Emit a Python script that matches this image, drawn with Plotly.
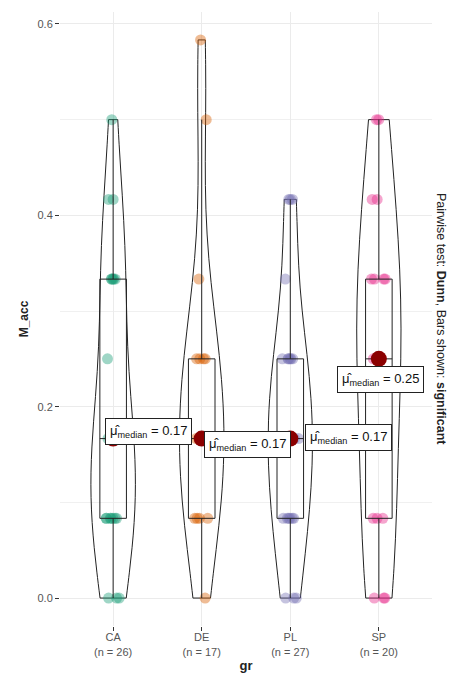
import numpy as np
import plotly.graph_objects as go

# M_acc takes values in steps of 1/12; counts of each score per group
groups = ["CA", "DE", "PL", "SP"]
score_levels = [0, 1 / 12, 2 / 12, 3 / 12, 4 / 12, 5 / 12, 6 / 12, 7 / 12]
counts_CA = [3, 7, 7, 1, 5, 2, 1, 0]
counts_DE = [1, 4, 5, 4, 1, 0, 1, 1]
counts_PL = [3, 6, 8, 6, 1, 3, 0, 0]
counts_SP = [3, 3, 2, 4, 4, 2, 2, 0]
group_colors = ["#1B9E77", "#D95F02", "#7570B3", "#E7298A"]
pairwise_caption = "Pairwise test: <b>Dunn</b>, Bars shown: <b>significant</b>"

# label offsets (px) of the median labels from their points
label_shift = {"CA": (35, 7), "DE": (46, -6), "PL": (58, 1), "SP": (2, -21)}
# kernel bandwidth multiplier applied to the nrd0 rule
bw_adjust = 1.25

counts = {"CA": counts_CA, "DE": counts_DE, "PL": counts_PL, "SP": counts_SP}
data = {g: np.repeat(score_levels, counts[g]) for g in groups}


def q7(v, p):
    return float(np.quantile(v, p))  # R type-7 quantile


def nrd0(v):
    sd = np.std(v, ddof=1)
    iqr = q7(v, 0.75) - q7(v, 0.25)
    s = min(sd, iqr / 1.34) if iqr > 0 else sd
    return 0.9 * s * len(v) ** -0.2


fig = go.Figure()

# jittered raw observations
for g, col in zip(groups, group_colors):
    v = data[g]
    fig.add_trace(go.Box(
        x=[g] * len(v), y=v, boxpoints="all", jitter=0.7, pointpos=0,
        width=0.3, line=dict(width=0, color="rgba(0,0,0,0)"),
        fillcolor="rgba(0,0,0,0)", whiskerwidth=0,
        marker=dict(color=col, opacity=0.42, size=11, line=dict(width=0)),
        hoverinfo="skip",
    ))

# violins (area-scaled through a shared scale group)
for g in groups:
    v = data[g]
    fig.add_trace(go.Violin(
        x=[g] * len(v), y=v, points=False, spanmode="hard",
        bandwidth=nrd0(v) * bw_adjust, scalegroup="all", scalemode="width", width=0.5,
        line=dict(color="#222222", width=1), fillcolor="rgba(255,255,255,0)",
        box=dict(visible=False), meanline=dict(visible=False), hoverinfo="skip",
    ))

# boxplots with Tukey whiskers
medians = []
for g in groups:
    v = data[g]
    q1, med, q3 = q7(v, 0.25), q7(v, 0.5), q7(v, 0.75)
    iqr = q3 - q1
    lo = float(v[v >= q1 - 1.5 * iqr].min())
    hi = float(v[v <= q3 + 1.5 * iqr].max())
    medians.append(med)
    fig.add_trace(go.Box(
        x=[g], q1=[q1], median=[med], q3=[q3], lowerfence=[lo], upperfence=[hi],
        width=0.3, whiskerwidth=0, boxpoints=False,
        line=dict(color="#222222", width=1), fillcolor="rgba(255,255,255,0)",
        hoverinfo="skip",
    ))

# medians
fig.add_trace(go.Scatter(
    x=groups, y=medians, mode="markers",
    marker=dict(color="#8B0000", size=16), hoverinfo="skip",
))

for i, (g, med) in enumerate(zip(groups, medians)):
    dx, dy = label_shift[g]
    fig.add_annotation(
        x=g, y=med, xref="x", yref="y", xshift=dx, yshift=dy,
        text=f"\u03bc\u0302<sub>median</sub> = {med:.2f}",
        showarrow=False, bgcolor="white", bordercolor="#222222",
        borderwidth=1, borderpad=4,
        font=dict(family="Liberation Sans, Arial", size=13, color="#111111"),
    )

fig.add_annotation(
    xref="paper", yref="paper", x=1, y=0.5, xanchor="center", yanchor="middle",
    xshift=9, textangle=90, text=pairwise_caption, showarrow=False,
    font=dict(family="Liberation Sans, Arial", size=12.5, color="#222222"),
)

ticktext = [f"{g}<br>(n = {len(data[g])})" for g in groups]

fig.update_layout(
    width=453, height=678,
    margin=dict(l=60, r=21, t=12, b=52),
    plot_bgcolor="white", paper_bgcolor="white", showlegend=False,
    font=dict(family="Liberation Sans, Arial", size=11, color="#555555"),
    boxmode="overlay", violinmode="overlay",
)
fig.update_xaxes(
    type="category", categoryorder="array", categoryarray=groups,
    range=[-0.6, 3.6], tickvals=groups, ticktext=ticktext, automargin=False,
    showgrid=True, gridcolor="#EBEBEB", gridwidth=1, zeroline=False,
    ticks="outside", ticklen=4, tickcolor="#333333", showline=False,
    ticklabelstandoff=-3,
    title=dict(text="<b>gr</b>", font=dict(size=13, color="#222222"), standoff=4),
)
fig.update_yaxes(
    range=[-0.0292, 0.6125], tickvals=[0, 0.2, 0.4, 0.6],
    ticktext=["0.0", "0.2", "0.4", "0.6"], automargin=False,
    showgrid=True, gridcolor="#EBEBEB", gridwidth=1, zeroline=False,
    minor=dict(tickvals=[0.1, 0.3, 0.5], showgrid=True, gridcolor="#F0F0F0", ticks=""),
    ticks="outside", ticklen=4, tickcolor="#333333", showline=False,
    title=dict(text="<b>M_acc</b>", font=dict(size=12, color="#222222"), standoff=6),
)

fig.write_html("out.html")
